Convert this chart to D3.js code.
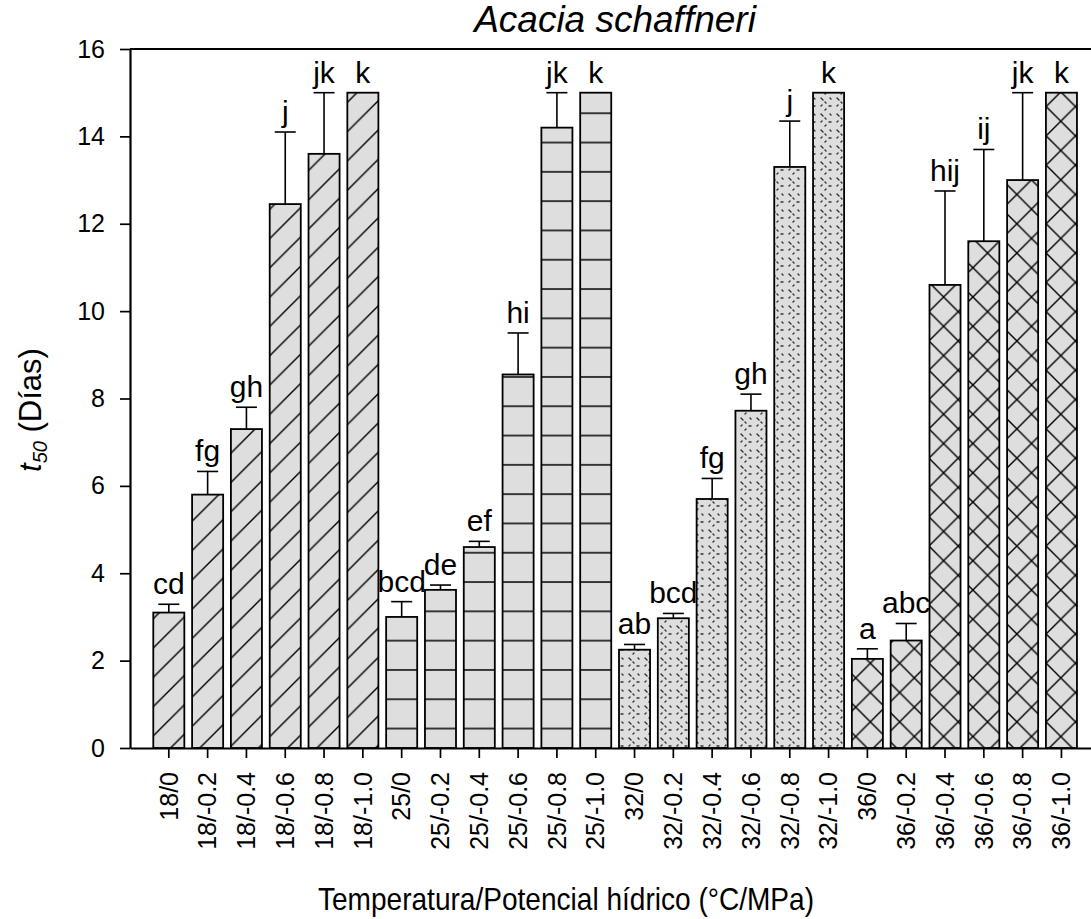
<!DOCTYPE html>
<html>
<head>
<meta charset="utf-8">
<script src="https://cdn.jsdelivr.net/npm/d3@7"></script>
<style>
  html, body { margin: 0; padding: 0; background: #fff; }
  svg { display: block; font-family: "Liberation Sans", Arial, sans-serif; }
</style>
</head>
<body>
<svg id="chart" width="1091" height="919"></svg>
<script>
// ---- data ----
const categories = ["18/0","18/-0.2","18/-0.4","18/-0.6","18/-0.8","18/-1.0",
                    "25/0","25/-0.2","25/-0.4","25/-0.6","25/-0.8","25/-1.0",
                    "32/0","32/-0.2","32/-0.4","32/-0.6","32/-0.8","32/-1.0",
                    "36/0","36/-0.2","36/-0.4","36/-0.6","36/-0.8","36/-1.0"];
const t50Values = [3.1, 5.8, 7.3, 12.45, 13.6, 15,
                   3.0, 3.62, 4.6, 8.55, 14.2, 15,
                   2.25, 2.97, 5.7, 7.72, 13.3, 15,
                   2.04, 2.46, 10.6, 11.6, 13.0, 15];
const t50Errors = [0.19, 0.53, 0.5, 1.65, 1.4, 0,
                   0.35, 0.11, 0.13, 0.95, 0.8, 0,
                   0.12, 0.11, 0.47, 0.38, 1.05, 0,
                   0.23, 0.39, 2.15, 2.1, 2.0, 0];
const letters = ["cd","fg","gh","j","jk","k",
                 "bcd","de","ef","hi","jk","k",
                 "ab","bcd","fg","gh","j","k",
                 "a","abc","hij","ij","jk","k"];
const temperatureGroups = ["18","25","32","36"];
const yTicks = [0, 2, 4, 6, 8, 10, 12, 14, 16];

(function () {
const svg = d3.select("#chart");
const mLeft = 130, mRight = 1100.25, mTop = 49, mBottom = 748;
const FONT = "Liberation Sans, Arial, sans-serif";

const x = d3.scaleBand().domain(categories).range([mLeft, mRight])
  .paddingInner(0.2).paddingOuter(0.6);
const y = d3.scaleLinear().domain([0, 16]).range([mBottom, mTop]);

// ---- patterns ----
const defs = svg.append("defs");
const fillGray = "#dedede";
const P = 29.3;

function basePattern(id, w, h, px, py) {
  const p = defs.append("pattern").attr("id", id)
    .attr("patternUnits", "userSpaceOnUse")
    .attr("x", px).attr("y", py).attr("width", w).attr("height", h);
  p.append("rect").attr("width", w).attr("height", h).attr("fill", fillGray);
  return p;
}
// 18: diagonal lines
const pd = basePattern("pat18", P, P, 0, 10.2);
pd.append("path").attr("d", `M-3,${P+3} L${P+3},-3 M-3,3 L3,-3 M${P-3},${P+3} L${P+3},${P-3}`)
  .attr("stroke", "#000").attr("stroke-width", 1.4).attr("fill", "none");
// 25: horizontal lines
const ph = basePattern("pat25", P, P, 0, 10.7);
ph.append("line").attr("x1", 0).attr("x2", P).attr("y1", P/2).attr("y2", P/2)
  .attr("stroke", "#000").attr("stroke-width", 1.5);
// 32: small dots / dashes
const pdot = basePattern("pat32", 16, 16, 2, 0);
const marks = [
  [3,2,5,4],[12,2,13,3],[3,10,4,9],[11,10,13,10],[7,6,8,7],[7,14,8,13]
];
marks.forEach(m => pdot.append("line")
  .attr("x1", m[0]).attr("y1", m[1]).attr("x2", m[2]).attr("y2", m[3])
  .attr("stroke", "#333").attr("stroke-width", 1.4).attr("stroke-linecap", "round"));
// 36: cross hatch
const pc = basePattern("pat36", P, P, 6, 4);
pc.append("path").attr("d", `M0,0 L${P},${P} M0,${P} L${P},0`)
  .attr("stroke", "#000").attr("stroke-width", 1.4).attr("fill", "none");

const patternOf = i => "url(#pat" + temperatureGroups[Math.floor(i / 6)] + ")";

// ---- data records ----
const data = categories.map((c, i) => ({ c, v: t50Values[i], e: t50Errors[i], l: letters[i], i }));

// ---- error bars (upper only) ----
const eb = svg.append("g").attr("stroke", "#000").attr("stroke-width", 1.6);
data.filter(d => d.e > 0).forEach(d => {
  const cx = x(d.c) + x.bandwidth() / 2;
  eb.append("line").attr("x1", cx).attr("x2", cx).attr("y1", y(d.v)).attr("y2", y(d.v + d.e));
  eb.append("line").attr("x1", cx - 10.5).attr("x2", cx + 10.5).attr("y1", y(d.v + d.e)).attr("y2", y(d.v + d.e));
});

// ---- bars ----
svg.append("g").selectAll("rect").data(data).join("rect")
  .attr("x", d => x(d.c))
  .attr("y", d => y(d.v))
  .attr("width", x.bandwidth())
  .attr("height", d => y(0) - y(d.v))
  .attr("fill", d => patternOf(d.i))
  .attr("stroke", "#000")
  .attr("stroke-width", 1.8);

// ---- letters ----
svg.append("g").selectAll("text").data(data).join("text")
  .attr("x", d => x(d.c) + x.bandwidth() / 2)
  .attr("y", d => y(d.v + d.e) - 10)
  .attr("text-anchor", "middle")
  .attr("font-family", FONT)
  .attr("font-size", 30)
  .attr("fill", "#000")
  .text(d => d.l);

// ---- axes ----
const yAxis = svg.append("g").attr("transform", `translate(${mLeft},0)`)
  .call(d3.axisLeft(y).tickValues(yTicks).tickSize(10).tickSizeOuter(0).tickPadding(15));
yAxis.attr("font-family", FONT).attr("font-size", 25);
yAxis.selectAll("text").attr("fill", "#000");
yAxis.selectAll(".tick line").attr("stroke-width", 1.7);
yAxis.select(".domain").attr("stroke-width", 2.2);

const xAxis = svg.append("g").attr("transform", `translate(0,${mBottom})`)
  .call(d3.axisBottom(x).tickSize(10).tickSizeOuter(0));
xAxis.attr("font-family", FONT).attr("font-size", 25);
xAxis.selectAll(".tick line").attr("stroke-width", 1.7);
xAxis.select(".domain").attr("stroke-width", 2.2);
xAxis.selectAll("text")
  .attr("fill", "#000")
  .attr("text-anchor", "end")
  .attr("transform", "rotate(-90)")
  .attr("x", -24).attr("y", 0).attr("dy", "0.35em");

// top frame line
svg.append("line").attr("x1", mLeft).attr("x2", mRight).attr("y1", mTop).attr("y2", mTop)
  .attr("stroke", "#000").attr("stroke-width", 2.2);

// ---- titles ----
svg.append("text").attr("x", 615).attr("y", 32).attr("text-anchor", "middle")
  .attr("font-family", FONT)
  .attr("font-size", 37).attr("font-style", "italic").text("Acacia schaffneri");

svg.append("text").attr("x", 566).attr("y", 910).attr("text-anchor", "middle")
  .attr("font-family", FONT)
  .attr("font-size", 32).attr("textLength", 496).attr("lengthAdjust", "spacingAndGlyphs")
  .text("Temperatura/Potencial hídrico (°C/MPa)");

const yl = svg.append("text").attr("transform", "translate(41,410) rotate(-90)")
  .attr("font-family", FONT)
  .attr("text-anchor", "middle").attr("font-size", 31);
yl.append("tspan").attr("font-style", "italic").text("t");
yl.append("tspan").attr("font-style", "italic").attr("font-size", 20).attr("dy", 6).text("50");
yl.append("tspan").attr("dy", -6).text(" (Días)");
})();
</script>
</body>
</html>
